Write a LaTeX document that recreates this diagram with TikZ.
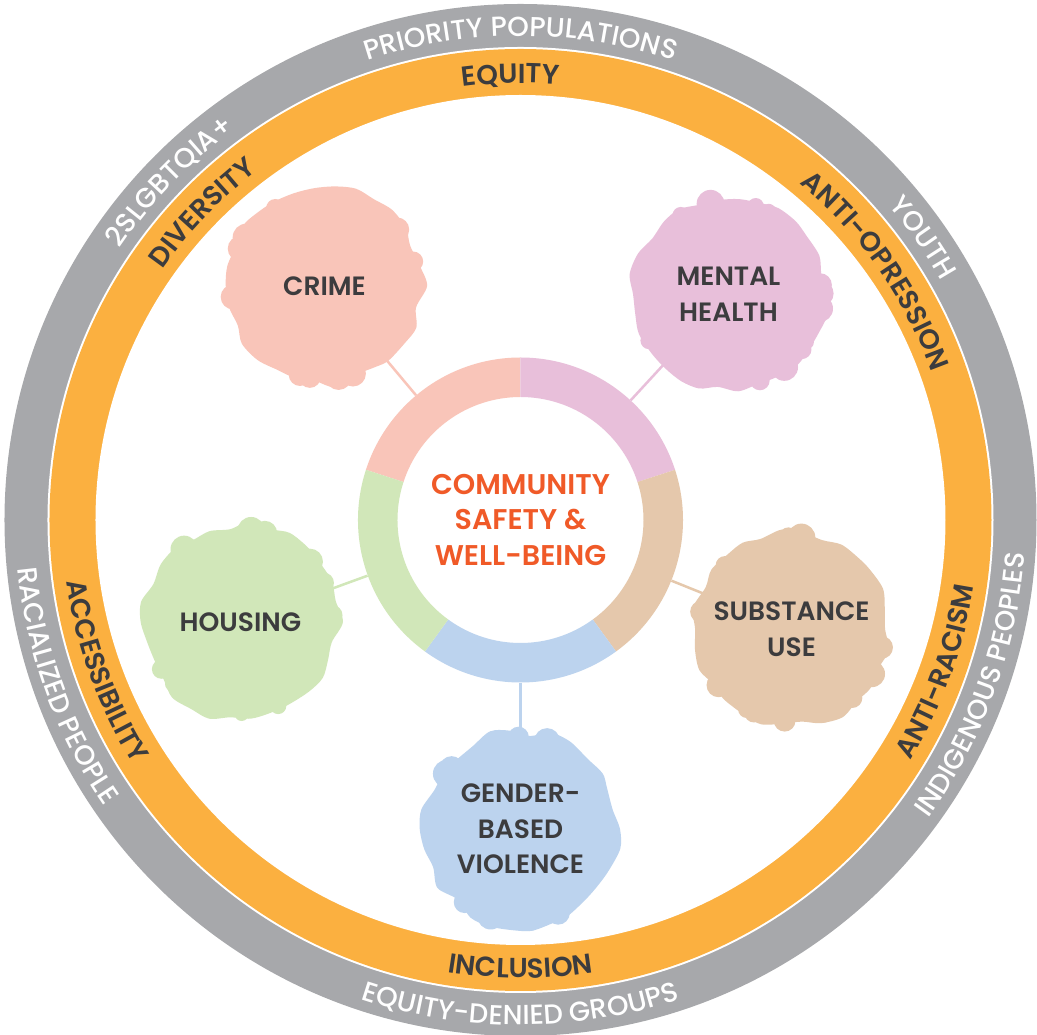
\documentclass[tikz,border=0pt]{standalone}
\usepackage{fontspec}
\setmainfont{Poppins}[BoldFont={Poppins SemiBold}]
\newfontfamily\ringfont{Poppins Medium}
\usetikzlibrary{decorations.text}

\pgfdeclarelayer{back}
\pgfsetlayers{back,main}

\definecolor{ringgray}{RGB}{167,168,171}
\definecolor{ringorange}{RGB}{251,176,64}
\definecolor{inktext}{RGB}{60,60,62}
\definecolor{hubtext}{RGB}{240,90,40}
\definecolor{crimepink}{RGB}{249,197,185}
\definecolor{mentalmauve}{RGB}{232,191,218}
\definecolor{substan}{RGB}{229,200,172}
\definecolor{gbvblue}{RGB}{188,211,238}
\definecolor{housegreen}{RGB}{209,231,185}

\tikzset{
  outerlabel/.style={decorate, decoration={text along path, text align=center,
      text color=white, text={|\ringfont\fontsize{27.5}{30}\selectfont|#1}}},
  valuelabel/.style={decorate, decoration={text along path, text align=center,
      text color=inktext, text={|\bfseries\fontsize{27.5}{30}\selectfont|#1}}},
  issue/.style={text=inktext, align=center, font=\bfseries\fontsize{26.5}{35.5}\selectfont},
  spoke/.style={line width=2.5}
}

\begin{document}
\begin{tikzpicture}[x=1pt,y=1pt]
\useasboundingbox (-520.5,-515) rectangle (516.5,520);

% hub and the five issues
\node[circle, minimum size=325, inner sep=0, text=hubtext, align=center,
      font=\bfseries\fontsize{28.5}{35.5}\selectfont] (hub) at (0,0) {COMMUNITY\\SAFETY \&\\WELL-BEING};
\node[issue] (crime) at (-196,234) {CRIME};
\node[issue] (mental) at (208,226) {MENTAL\\HEALTH};
\node[issue] (substance) at (271,-109) {SUBSTANCE\\USE};
\node[issue] (gbv) at (0,-309) {GENDER-\\BASED\\VIOLENCE};
\node[issue] (housing) at (-280,-102) {HOUSING};

\begin{pgfonlayer}{back}
% the two outer rings
\fill[ringgray] (0,0) circle[radius=516];
\fill[white] (0,0) circle[radius=473];
\fill[ringorange] (0,0) circle[radius=471];
\fill[white] (0,0) circle[radius=425];

% grey ring: upper half clockwise, lower half anticlockwise
\path[outerlabel={PRIORITY POPULATIONS}] (125:484) arc[start angle=125, end angle=55, radius=484];
\path[outerlabel={YOUTH}] (65:484) arc[start angle=65, end angle=5, radius=484];
\path[outerlabel={2SLGBTQIA+}] (166:484) arc[start angle=166, end angle=106, radius=484];
\path[outerlabel={INDIGENOUS PEOPLES}] (-55:505) arc[start angle=-55, end angle=15, radius=505];
\path[outerlabel={EQUITY-DENIED GROUPS}] (-125:505) arc[start angle=-125, end angle=-55, radius=505];
\path[outerlabel={RACIALIZED PEOPLE}] (165:505) arc[start angle=165, end angle=235, radius=505];

% orange ring
\path[valuelabel={EQUITY}] (121.3:437) arc[start angle=121.3, end angle=61.3, radius=437];
\path[valuelabel={ANTI-OPRESSION}] (70:437) arc[start angle=70, end angle=0, radius=437];
\path[valuelabel={DIVERSITY}] (166:437) arc[start angle=166, end angle=106, radius=437];
\path[valuelabel={ANTI-RACISM}] (-55:458) arc[start angle=-55, end angle=15, radius=458];
\path[valuelabel={INCLUSION}] (-120:458) arc[start angle=-120, end angle=-60, radius=458];
\path[valuelabel={ACCESSIBILITY}] (165:458) arc[start angle=165, end angle=235, radius=458];

% spokes
\draw[crimepink, spoke] (hub) -- (crime);
\draw[mentalmauve, spoke] (hub) -- (mental);
\draw[substan, spoke] (hub) -- (substance);
\draw[gbvblue, spoke] (hub) -- (gbv);
\draw[housegreen, spoke] (hub) -- (housing);

% donut, one 72 degree piece per issue
\foreach \a/\col in {90/crimepink, 18/mentalmauve, -54/substan, -126/gbvblue, 162/housegreen}
  \fill[\col] (\a:162.5) arc[start angle=\a, delta angle=72, radius=162.5]
    -- ({\a+72}:123) arc[start angle=\a+72, delta angle=-72, radius=123] -- cycle;

% bumpy blobs behind the issue labels
\foreach \n/\col/\seed in {crime/crimepink/3, mental/mentalmauve/11, substance/substan/5,
                           gbv/gbvblue/17, housing/housegreen/23} {
  \pgfmathsetseed{\seed}
  \fill[\col, shift={(\n.center)}] plot[smooth cycle, samples=30, domain=0:348] (\x:{93+10*rnd});
  \foreach \k in {1,...,12} {
    \pgfmathsetmacro\ba{360*rnd}
    \pgfmathsetmacro\br{7+7*rnd}
    \fill[\col, shift={(\n.center)}] (\ba:92) circle[radius=\br];
  }
}
\end{pgfonlayer}
\end{tikzpicture}
\end{document}
